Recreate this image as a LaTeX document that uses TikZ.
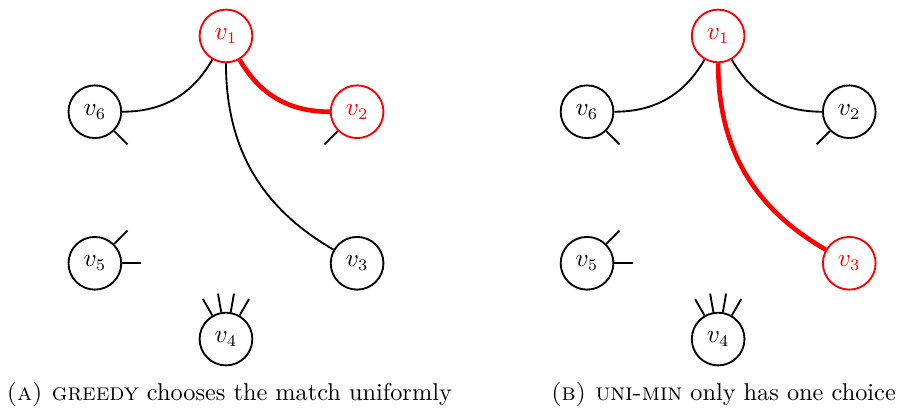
\documentclass[tikz,border=0pt]{standalone}
\usepackage{amsmath}
\usepackage{tikz}

\begin{document}
\begin{tikzpicture}[font=\fontsize{10.5}{12.6}\selectfont,
	vtx/.style={shape=circle,draw=black,thick,minimum size=0.8cm,inner sep=0pt},
	chosen/.style={draw=red,text=red},
	match/.style={draw=red,line width=2pt}]
	\useasboundingbox (-3.43,-5.706) rectangle (10.20,0.546);
	% (a) greedy
	\node[vtx,chosen] (a1) at (0, 0)         {$v_1$};
	\node[vtx,chosen] (a2) at (1.99, -1.15)  {$v_2$};
	\node[vtx]        (a3) at (1.99, -3.45)  {$v_3$};
	\node[vtx]        (a4) at (0, -4.6)      {$v_4$};
	\node[vtx]        (a5) at (-1.99, -3.45) {$v_5$};
	\node[vtx]        (a6) at (-1.99, -1.15) {$v_6$};
	\coordinate (a2x) at ([shift={(225:0.7)}]a2);
	\coordinate (a4p) at ([shift={(60:0.7)}]a4);
	\coordinate (a4q) at ([shift={(80:0.7)}]a4);
	\coordinate (a4r) at ([shift={(100:0.7)}]a4);
	\coordinate (a4s) at ([shift={(120:0.7)}]a4);
	\coordinate (a5p) at ([shift={(45:0.7)}]a5);
	\coordinate (a5q) at ([shift={(0:0.7)}]a5);
	\coordinate (a6x) at ([shift={(-45:0.7)}]a6);
	\path[-,thick] (a1) edge [bend left=30] (a6);
	\path[-,thick] (a1) edge [bend right=30] (a3);
	\path[-,match] (a1) edge [bend right=30] (a2);
	\path[-,thick] (a2) edge (a2x);
	\path[-,thick] (a4) edge (a4p);
	\path[-,thick] (a4) edge (a4q);
	\path[-,thick] (a4) edge (a4r);
	\path[-,thick] (a4) edge (a4s);
	\path[-,thick] (a5) edge (a5p);
	\path[-,thick] (a5) edge (a5q);
	\path[-,thick] (a6) edge (a6x);
	\node[anchor=base] (capa) at (0.05, -5.54) {\textsc{(a) greedy} chooses the match uniformly};
	% (b) uni-min
	\node[vtx,chosen] (b1) at (7.47, 0)      {$v_1$};
	\node[vtx]        (b2) at (9.46, -1.15)  {$v_2$};
	\node[vtx,chosen] (b3) at (9.46, -3.45)  {$v_3$};
	\node[vtx]        (b4) at (7.47, -4.6)   {$v_4$};
	\node[vtx]        (b5) at (5.48, -3.45)  {$v_5$};
	\node[vtx]        (b6) at (5.48, -1.15)  {$v_6$};
	\coordinate (b2x) at ([shift={(225:0.7)}]b2);
	\coordinate (b4p) at ([shift={(60:0.7)}]b4);
	\coordinate (b4q) at ([shift={(80:0.7)}]b4);
	\coordinate (b4r) at ([shift={(100:0.7)}]b4);
	\coordinate (b4s) at ([shift={(120:0.7)}]b4);
	\coordinate (b5p) at ([shift={(45:0.7)}]b5);
	\coordinate (b5q) at ([shift={(0:0.7)}]b5);
	\coordinate (b6x) at ([shift={(-45:0.7)}]b6);
	\path[-,thick] (b1) edge [bend left=30] (b6);
	\path[-,thick] (b1) edge [bend right=30] (b2);
	\path[-,match] (b1) edge [bend right=30] (b3);
	\path[-,thick] (b2) edge (b2x);
	\path[-,thick] (b4) edge (b4p);
	\path[-,thick] (b4) edge (b4q);
	\path[-,thick] (b4) edge (b4r);
	\path[-,thick] (b4) edge (b4s);
	\path[-,thick] (b5) edge (b5p);
	\path[-,thick] (b5) edge (b5q);
	\path[-,thick] (b6) edge (b6x);
	\node[anchor=base] (capb) at (7.55, -5.54) {\textsc{(b) uni-min} only has one choice};
\end{tikzpicture}
\end{document}
